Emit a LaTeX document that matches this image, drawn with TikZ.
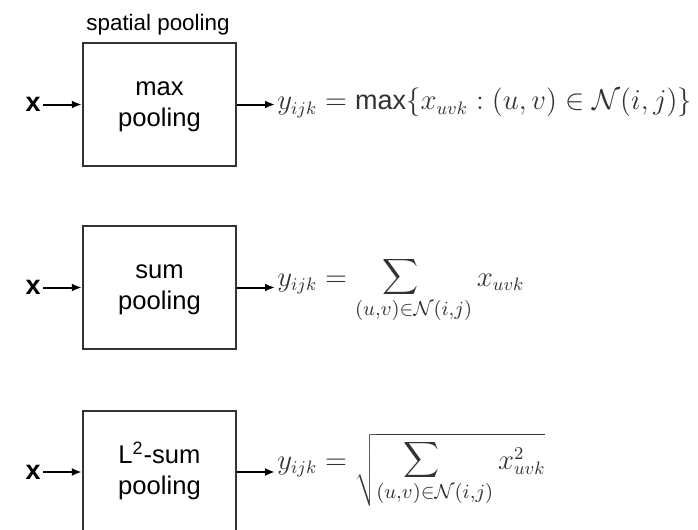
\documentclass[tikz,border=0pt]{standalone}
\usepackage{fontspec}
\setmainfont{Liberation Sans}
\usetikzlibrary{arrows.meta}
\newcommand{\bigsum}{\mathop{\scalebox{1.25}{$\displaystyle\sum$}}\limits}
\newcommand{\sumlimit}[1]{\scalebox{1.12}{$\scriptstyle #1$}}
\begin{document}
\begin{tikzpicture}[x=0.5pt,y=-0.5pt,
  box/.style={draw=black!80,line width=1.2pt,rectangle,minimum width=76.5pt,minimum height=61.5pt,inner sep=0pt,align=center,font=\fontsize{12.8}{15.5}\selectfont},
  lab/.style={inner sep=0pt,font=\fontsize{11.2}{13}\selectfont},
  xin/.style={inner sep=1pt,font=\fontsize{13.5}{16}\selectfont\bfseries},
  fml/.style={inner sep=0pt,anchor=base west,text=black!80,font=\fontsize{13.5}{16}\selectfont},
  arr/.style={line width=1pt,-{Latex[length=5pt,width=4pt]}}]
\useasboundingbox (0,0) rectangle (698,530);
\clip (0,0) rectangle (698,530);
% row 1
\node[box] (b1) at (159.5,104.5) {\raisebox{-3pt}{\begin{tabular}{@{}c@{}}max\\pooling\end{tabular}}};
\node[lab] (sp) at (158,25) {spatial pooling};
\node[xin,anchor=east] (x1) at (43,104.5) {x};
\coordinate (o1) at (275,104.5);
\draw[arr] (x1) -- (b1);
\draw[arr] (b1) -- (o1);
\node[fml] (f1) at (277,110) {$y_{ijk} = \max\{x_{uvk} : (u,v) \in \mathcal{N}(i,j)\}$};
% row 2
\node[box] (b2) at (159.5,287.5) {\raisebox{-3pt}{\begin{tabular}{@{}c@{}}sum\\pooling\end{tabular}}};
\node[xin,anchor=east] (x2) at (43,287.5) {x};
\coordinate (o2) at (275,287.5);
\draw[arr] (x2) -- (b2);
\draw[arr] (b2) -- (o2);
\node[fml] (f2) at (277,286) {$\displaystyle y_{ijk} = \bigsum_{\sumlimit{(u,v)\in\mathcal{N}(i,j)}} x_{uvk}$};
% row 3
\node[box] (b3) at (159.5,472.5) {\raisebox{-3pt}{\begin{tabular}{@{}c@{}}L\textsuperscript{2}-sum\\pooling\end{tabular}}};
\node[xin,anchor=east] (x3) at (43,472) {x};
\coordinate (o3) at (275,472);
\draw[arr] (x3) -- (x3 -| b3.west);
\draw[arr] (b3.east |- o3) -- (o3);
\node[fml] (f3) at (277,469) {$\displaystyle y_{ijk} = \sqrt{\bigsum_{\sumlimit{(u,v)\in\mathcal{N}(i,j)}} x_{uvk}^2}$};
\end{tikzpicture}
\end{document}
